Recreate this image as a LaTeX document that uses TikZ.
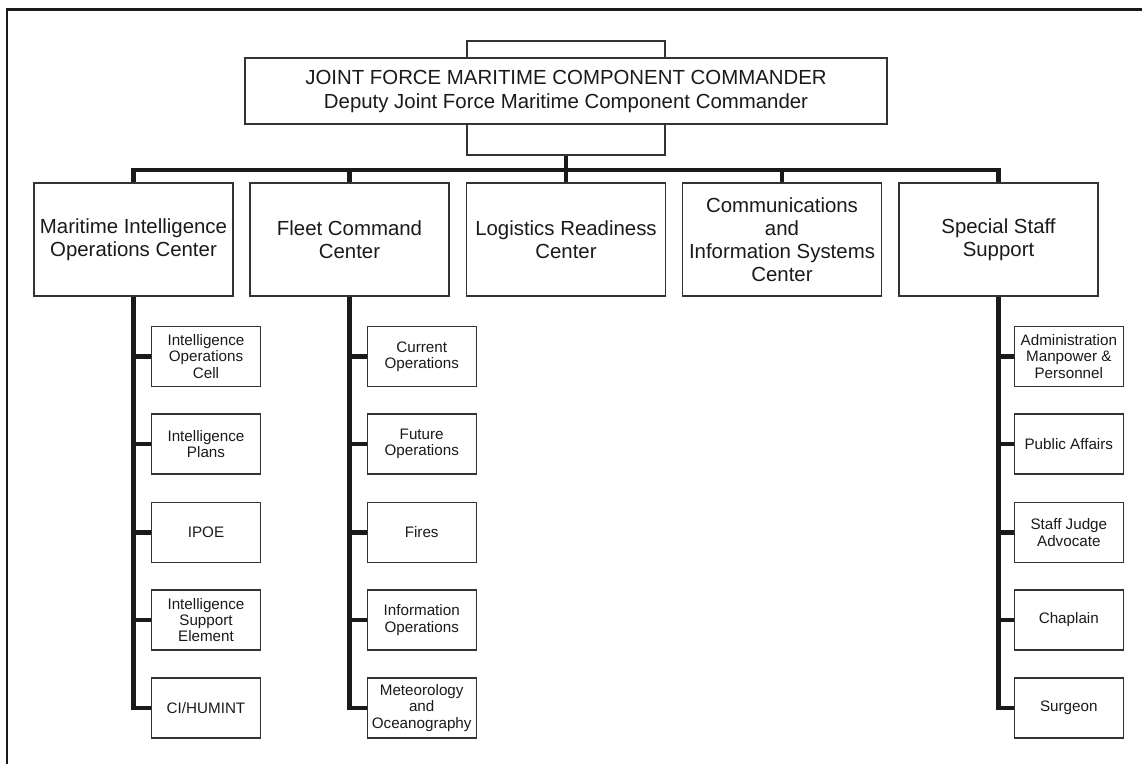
\documentclass[tikz,border=0pt]{standalone}
\usepackage{fontspec}
\setmainfont{Liberation Sans}
\definecolor{ink}{HTML}{1A1A1A}
\definecolor{edge}{HTML}{333333}
\tikzset{
  topbox/.style={draw=edge, line width=1.2pt, fill=white, minimum width=642pt, minimum height=66pt, align=center, inner sep=1pt, text=ink, font=\fontsize{20.4}{24}\selectfont},
  backbox/.style={draw=edge, line width=1.2pt, fill=white, minimum width=198pt, minimum height=114pt},
  midbox/.style={draw=edge, line width=1.2pt, fill=white, minimum width=199pt, minimum height=113pt, align=center, inner sep=1pt, text=ink, font=\fontsize{20.4}{23}\selectfont},
  subbox/.style={draw=edge, line width=1.2pt, fill=white, minimum width=109pt, minimum height=60pt, align=center, inner sep=1pt, text=ink, font=\fontsize{15.2}{16.3}\selectfont},
  bar/.style={draw=ink, line width=4.2pt, line join=miter},
}
\begin{document}
\begin{tikzpicture}[x=1pt,y=-1pt]
\useasboundingbox (0,0) rectangle (1142,764);
\draw[line width=2.2pt, ink] (7,764) -- (7,9.5) -- (1142,9.5);

\node[backbox] (back) at (566,98) {};
\node[topbox] (top) at (566,91) {JOINT FORCE MARITIME COMPONENT COMMANDER\\Deputy Joint Force Maritime Component Commander};

\node[midbox] (m1) at (133.5,239.5) {Maritime Intelligence\\Operations Center};
\node[midbox] (m2) at (349.5,239.5) {Fleet Command\\Center};
\node[midbox] (m3) at (566,239.5) {Logistics Readiness\\Center};
\node[midbox] (m4) at (782,239.5) {Communications\\and\\Information Systems\\Center};
\node[midbox] (m5) at (998.5,239.5) {Special Staff\\Support};

\coordinate (bus) at (566,170);
\draw[bar] (back.south) -- (bus);
\draw[bar] (m1.north) -- (m1.north |- bus) -- (m5.north |- bus) -- (m5.north);
\draw[bar] (m2.north) -- (m2.north |- bus);
\draw[bar] (m3.north) -- (m3.north |- bus);
\draw[bar] (m4.north) -- (m4.north |- bus);

% left column
\node[subbox] (a1) at (206,356.5) {Intelligence\\Operations\\Cell};
\node[subbox] (a2) at (206,444) {Intelligence\\Plans};
\node[subbox] (a3) at (206,532.5) {IPOE};
\node[subbox] (a4) at (206,620) {Intelligence\\Support\\Element};
\node[subbox] (a5) at (206,708) {CI/HUMINT};
% middle column
\node[subbox] (b1) at (421.7,356.5) {Current\\Operations};
\node[subbox] (b2) at (421.7,444) {Future\\Operations};
\node[subbox] (b3) at (421.7,532.5) {Fires};
\node[subbox] (b4) at (421.7,620) {Information\\Operations};
\node[subbox] (b5) at (421.7,708) {Meteorology\\and\\Oceanography};
% right column
\node[subbox] (c1) at (1068.8,356.5) {Administration\\Manpower \&\\Personnel};
\node[subbox] (c2) at (1068.8,444) {Public Affairs};
\node[subbox] (c3) at (1068.8,532.5) {Staff Judge\\Advocate};
\node[subbox] (c4) at (1068.8,620) {Chaplain};
\node[subbox] (c5) at (1068.8,708) {Surgeon};

\foreach \m/\s in {m1/a, m2/b, m5/c}{
  \draw[bar] (\m.south) |- (\s5.west);
  \foreach \i in {1,2,3,4}{
    \draw[bar] (\m.south |- \s\i.west) -- (\s\i.west);
  }
}
\end{tikzpicture}
\end{document}
